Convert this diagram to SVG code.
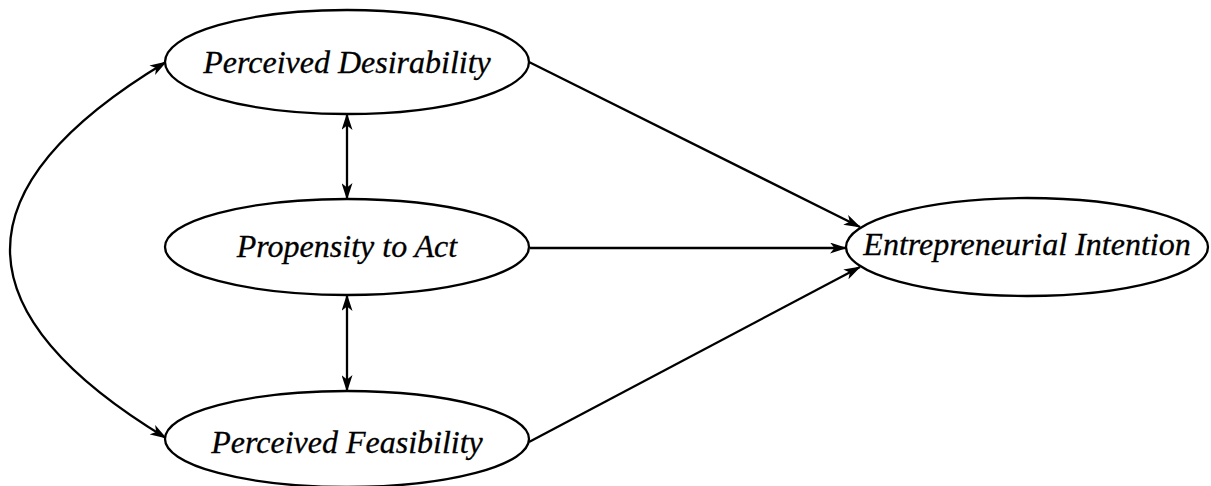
<svg xmlns="http://www.w3.org/2000/svg" width="1211" height="486" viewBox="0 0 1211 486">
<style>
.node ellipse{fill:#fff;stroke:#000;stroke-width:2.3}
.node text{font-family:"Liberation Serif","Times New Roman",serif;font-style:italic;font-size:32px;fill:#000;stroke:#000;stroke-width:0.3;text-anchor:middle}
.edge{fill:none;stroke:#000;stroke-width:2.3}
</style>
<defs>
<marker id="ah" viewBox="0 0 17 11" refX="16" refY="5.5" markerWidth="17" markerHeight="11" markerUnits="userSpaceOnUse" orient="auto-start-reverse">
<path d="M0,0 L17,5.5 L0,11 L4.5,5.5 Z" fill="#000"/>
</marker>
</defs>
<g id="connectors">
<path class="edge" d="M166,62 C-42,187 -42,312 166,438" marker-start="url(#ah)" marker-end="url(#ah)"/>
<line class="edge" x1="347" y1="114" x2="347" y2="199" marker-start="url(#ah)" marker-end="url(#ah)"/>
<line class="edge" x1="347" y1="295" x2="347" y2="391" marker-start="url(#ah)" marker-end="url(#ah)"/>
<line class="edge" x1="529" y1="62" x2="860" y2="227" marker-end="url(#ah)"/>
<line class="edge" x1="530" y1="248" x2="846" y2="248" marker-end="url(#ah)"/>
<line class="edge" x1="529" y1="442" x2="860" y2="267" marker-end="url(#ah)"/>
</g>
<g id="n-desirability" class="node">
<ellipse cx="347" cy="62" rx="182" ry="52"/>
<text x="347" y="73">Perceived Desirability</text>
</g>
<g id="n-propensity" class="node">
<ellipse cx="347" cy="247" rx="182" ry="48"/>
<text x="347" y="257">Propensity to Act</text>
</g>
<g id="n-feasibility" class="node">
<ellipse cx="347" cy="439" rx="182" ry="48"/>
<text x="347" y="453">Perceived Feasibility</text>
</g>
<g id="n-intention" class="node">
<ellipse cx="1027" cy="247" rx="181" ry="49"/>
<text x="1027" y="255">Entrepreneurial Intention</text>
</g>
</svg>
